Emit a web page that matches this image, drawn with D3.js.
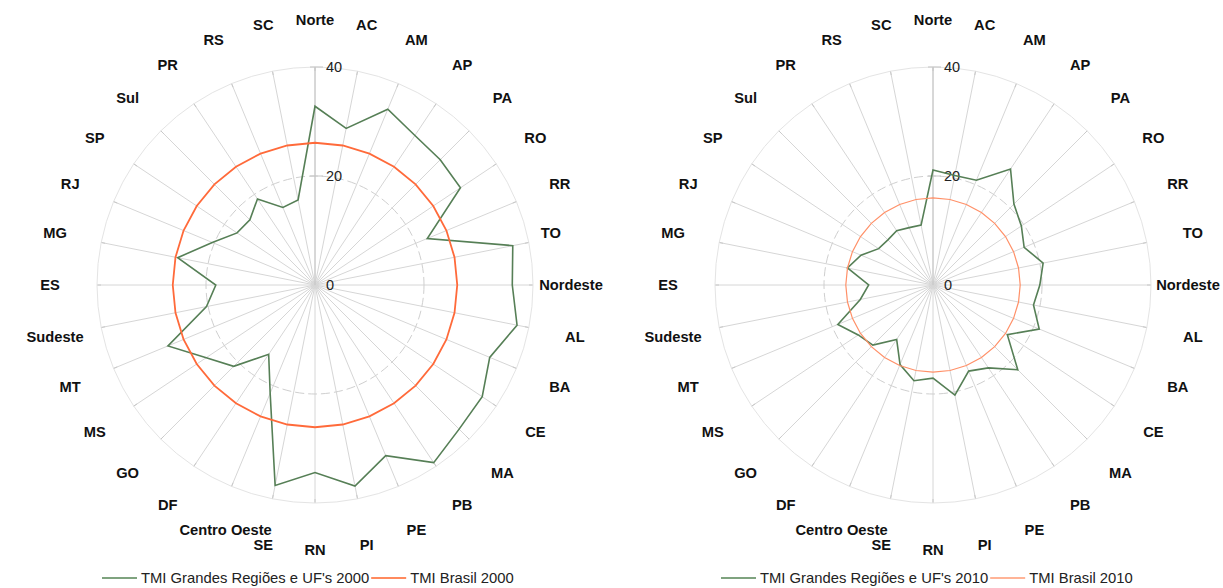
<!DOCTYPE html>
<html lang="pt">
<head>
<meta charset="utf-8">
<title>TMI radar</title>
<script src="https://d3js.org/d3.v7.min.js"></script>
<style>
  body { margin: 0; background: #fff; }
  svg { display: block; }
  .cat { font-family: "Liberation Sans", Arial, sans-serif; font-weight: bold; font-size: 14.7px; fill: #111; }
  .tick { font-family: "Liberation Sans", Arial, sans-serif; font-size: 14.5px; fill: #222; }
  .leg { font-family: "Liberation Sans", Arial, sans-serif; font-size: 14.8px; fill: #222; }
</style>
</head>
<body>
<script>
// categories, clockwise from the top
var categories = ["Norte", "AC", "AM", "AP", "PA", "RO", "RR", "TO",
  "Nordeste", "AL", "BA", "CE", "MA", "PB", "PE", "PI", "RN", "SE",
  "Centro Oeste", "DF", "GO", "MS", "MT",
  "Sudeste", "ES", "MG", "RJ", "SP",
  "Sul", "PR", "RS", "SC"];

// TMI grandes regioes e UF's
var tmi2000 = [32.8, 29.3, 34.9, 33.0, 32.5, 32.1, 22.3, 37.0,
  36.2, 37.8, 34.7, 36.9, 37.4, 39.2, 33.9, 37.6, 34.4, 37.5,
  21.5, 15.3, 21.1, 24.0, 29.2,
  20.3, 18.2, 25.7, 20.4, 17.2,
  16.9, 19.0, 15.4, 15.9];

var tmi2010 = [21.1, 20.5, 20.8, 25.6, 21.0, 19.5, 18.1, 20.6,
  19.6, 18.8, 21.1, 16.4, 22.0, 18.3, 17.1, 20.6, 17.1, 17.9,
  15.8, 12.0, 15.6, 16.5, 18.9,
  13.6, 11.8, 16.0, 14.3, 12.0,
  11.7, 12.0, 11.4, 11.2];

// TMI Brasil
var brasil2000 = 26.1;
var brasil2010 = 16.0;

var tickValues = [0, 20, 40];
var maxValue = 40;

var w = 1223, h = 588;
var R = 218;
var labelR = 265;

var svg = d3.select("body").append("svg")
  .attr("width", w)
  .attr("height", h);

var r = d3.scaleLinear().domain([0, maxValue]).range([0, R]);
var angle = d3.scaleLinear().domain([0, categories.length]).range([0, 2 * Math.PI]);

function drawRadar(cx, cy, values, brasil, opts) {
  var g = svg.append("g").attr("transform", "translate(" + cx + "," + cy + ")");

  // spokes
  g.selectAll("line.spoke")
    .data(categories)
    .enter().append("line")
    .attr("class", "spoke")
    .attr("x1", 0).attr("y1", 0)
    .attr("x2", function(d, i) { return r(maxValue) * Math.sin(angle(i)); })
    .attr("y2", function(d, i) { return -r(maxValue) * Math.cos(angle(i)); })
    .attr("stroke", "#d6d6d6")
    .attr("stroke-width", 1);

  // little marks on the outer ring
  g.selectAll("line.omark")
    .data(categories)
    .enter().append("line")
    .attr("class", "omark")
    .attr("x1", function(d, i) { return r(maxValue) * Math.sin(angle(i)); })
    .attr("y1", function(d, i) { return -r(maxValue) * Math.cos(angle(i)); })
    .attr("x2", function(d, i) { return (r(maxValue) - 4) * Math.sin(angle(i)); })
    .attr("y2", function(d, i) { return -(r(maxValue) - 4) * Math.cos(angle(i)); })
    .attr("stroke", "#c8c8c8");

  // rings
  g.append("circle")
    .attr("r", r(40))
    .attr("fill", "none")
    .attr("stroke", "#e4e4e4");
  g.append("circle")
    .attr("r", r(20))
    .attr("fill", "none")
    .attr("stroke", "#cfcfcf")
    .attr("stroke-dasharray", "9,4");

  // value axis
  g.append("line")
    .attr("x1", 0).attr("y1", 0)
    .attr("x2", 0).attr("y2", -r(maxValue))
    .attr("stroke", "#c4c4c4");
  g.selectAll("line.vt")
    .data(tickValues.slice(1))
    .enter().append("line")
    .attr("class", "vt")
    .attr("x1", -5).attr("x2", 8)
    .attr("y1", function(d) { return -r(d); })
    .attr("y2", function(d) { return -r(d); })
    .attr("stroke", "#c4c4c4");
  g.selectAll("text.tick")
    .data(tickValues)
    .enter().append("text")
    .attr("class", "tick")
    .attr("x", 11)
    .attr("y", function(d) { return -r(d); })
    .attr("dy", "0.36em")
    .text(function(d) { return d; });

  var radial = d3.lineRadial()
    .angle(function(d, i) { return angle(i); })
    .radius(function(d) { return r(d); })
    .curve(d3.curveLinearClosed);

  // series
  g.append("path")
    .datum(values)
    .attr("d", radial)
    .attr("fill", "none")
    .attr("stroke", opts.green)
    .attr("stroke-width", 1.6)
    .attr("stroke-linejoin", "miter");

  g.append("path")
    .datum(categories.map(function() { return brasil; }))
    .attr("d", radial)
    .attr("fill", "none")
    .attr("stroke", opts.orange)
    .attr("stroke-width", opts.orangeWidth);

  // category labels (a few are nudged like in the original)
  var shift = opts.labelShift || {};
  g.selectAll("text.cat")
    .data(categories)
    .enter().append("text")
    .attr("class", "cat")
    .attr("x", function(d, i) { return labelR * Math.sin(angle(i)) + (shift[d] || [0, 0])[0]; })
    .attr("y", function(d, i) { return -labelR * Math.cos(angle(i)) + (shift[d] || [0, 0])[1]; })
    .attr("text-anchor", "middle")
    .attr("dy", "0.35em")
    .text(function(d) { return d; });

  // legend
  var leg = svg.append("g").attr("transform", "translate(" + opts.legX + ",578)");
  var x = 0;
  [[opts.legendA, opts.legGreen], [opts.legendB, opts.legOrange]].forEach(function(item) {
    leg.append("line")
      .attr("x1", x).attr("x2", x + 35)
      .attr("y1", 0).attr("y2", 0)
      .attr("stroke", item[1])
      .attr("stroke-width", 2);
    var t = leg.append("text")
      .attr("class", "leg")
      .attr("x", x + 39)
      .attr("dy", "0.35em")
      .text(item[0]);
    x += 39 + t.node().getComputedTextLength() + 2;
  });
}

drawRadar(315, 285, tmi2000, brasil2000, {
  green: "#567f56", orange: "#ff6a3a", orangeWidth: 1.8,
  legX: 102, legGreen: "#7fa37f", legOrange: "#ff8a5e",
  legendA: "TMI Grandes Regiões e UF's 2000", legendB: "TMI Brasil 2000",
  labelShift: { "TO": [-24, 0], "Nordeste": [-9, 0], "Centro Oeste": [12, 0] }
});

drawRadar(933, 285, tmi2010, brasil2010, {
  green: "#567f56", orange: "#ff9068", orangeWidth: 1.2,
  legX: 721, legGreen: "#7fa37f", legOrange: "#ffb497",
  legendA: "TMI Grandes Regiões e UF's 2010", legendB: "TMI Brasil 2010",
  labelShift: { "Nordeste": [-10, 0], "Centro Oeste": [10, 0] }
});
</script>
</body>
</html>
